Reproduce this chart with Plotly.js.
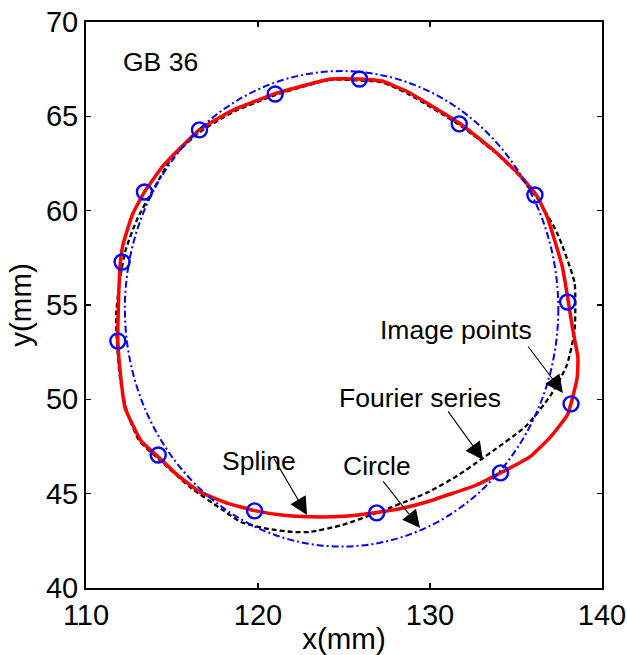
<!DOCTYPE html>
<html>
<head>
<meta charset="utf-8">
<script src="https://cdn.plot.ly/plotly-3.0.1.min.js"></script>
<style>html,body{margin:0;padding:0;background:#fff;}#chart{width:627px;height:655px;}</style>
</head>
<body>
<div id="chart"></div>
<script>
// Image points (blue open circles)
const imageX = [125.9, 121.0, 116.6, 113.4, 112.1, 111.85, 114.2, 119.8, 126.9, 134.1, 138.2, 138.0, 136.1, 131.7];
const imageY = [66.98, 66.18, 64.28, 60.99, 57.28, 53.09, 47.05, 44.09, 43.98, 46.1, 49.76, 55.16, 60.83, 64.6];

// Spline curve (red, solid)
const splineX = [125.9, 124.2, 121.0, 118.5, 116.6, 114.5, 113.4, 112.7, 112.15, 112.0, 111.9, 111.86, 111.85, 111.95, 112.27, 113.2, 114.2, 115.3, 116.6, 118.2, 119.8, 121.5, 123.0, 125.0, 126.9, 128.5, 129.8, 132.7, 134.1, 135.8, 137.0, 138.0, 138.55, 138.6, 138.3, 137.7, 136.8, 136.2, 135.1, 133.7, 131.7, 128.7, 127.2, 125.9];
const splineY = [66.98, 66.98, 66.2, 65.3, 64.3, 62.4, 61.0, 59.8, 58.2, 57.3, 55.5, 54.2, 53.1, 51.8, 49.55, 47.8, 46.95, 46.0, 45.1, 44.5, 44.1, 43.85, 43.77, 43.8, 44.0, 44.25, 44.56, 45.46, 46.1, 46.95, 48.0, 49.2, 51.1, 52.2, 53.7, 57.0, 59.7, 60.8, 62.0, 63.2, 64.65, 66.3, 66.87, 66.98];

// Fourier series curve (black, dashed)
const fourierX = [125.9, 124.2, 121.0, 118.5, 116.6, 115.0, 113.9, 113.0, 112.3, 112.0, 111.75, 111.8, 112.0, 112.4, 113.1, 114.2, 116.05, 118.0, 119.0, 120.5, 122.0, 123.0, 124.9, 126.9, 129.8, 131.5, 133.1, 135.6, 137.0, 137.95, 138.4, 138.45, 138.4, 137.4, 136.2, 135.1, 133.7, 131.7, 128.7, 127.2, 125.9];
const fourierY = [66.9, 66.93, 66.12, 65.2, 64.15, 62.8, 61.1, 59.6, 57.9, 56.5, 54.5, 53.0, 51.0, 49.3, 47.8, 46.85, 45.35, 44.1, 43.5, 43.15, 42.97, 42.97, 43.34, 43.98, 45.04, 45.9, 46.9, 48.6, 50.2, 51.8, 53.6, 55.0, 56.2, 58.8, 60.7, 61.95, 63.15, 64.55, 66.2, 66.8, 66.9];

// Fitted circle (blue, dash-dot)
const circleCx = 124.86;
const circleCy = 54.8;
const circleR = 12.6;

// Labels: text, text position, arrow head, arrow tail
const labelText = ["Image points", "Fourier series", "Circle", "Spline"];
const labelX = [131.51, 129.42, 126.92, 120.06];
const labelY = [53.68, 50.07, 46.47, 46.75];
const headX = [137.73, 133.08, 129.42, 122.85];
const headY = [50.34, 46.79, 43.18, 43.87];
const tailX = [135.64, 130.99, 127.21, 120.87];
const tailY = [52.88, 49.44, 45.73, 46.95];

const xTicks = [110, 120, 130, 140];
const yTicks = [40, 45, 50, 55, 60, 65, 70];

const FONT = "Liberation Sans, Arial, Helvetica, sans-serif";

const traces = [
  {x: fourierX, y: fourierY, type: 'scatter', mode: 'lines', name: 'Fourier series',
   line: {color: '#000000', width: 2.3, dash: '5px,3px', shape: 'spline', smoothing: 0.6}},
  {x: splineX, y: splineY, type: 'scatter', mode: 'lines', name: 'Spline',
   line: {color: '#ff0000', width: 3.5, shape: 'spline', smoothing: 0.4}},
  {x: imageX, y: imageY, type: 'scatter', mode: 'markers', name: 'Image points',
   marker: {symbol: 'circle-open', size: 15, color: '#0000ff', line: {width: 2.4, color: '#0000ff'}}}
];

const annotations = [];
for (let i = 0; i < labelText.length; i++) {
  annotations.push({x: labelX[i], y: labelY[i], xref: 'x', yref: 'y', text: labelText[i],
    showarrow: false, font: {family: FONT, size: 26.5, color: '#000'}, xanchor: 'center', yanchor: 'middle'});
  annotations.push({x: headX[i], y: headY[i], ax: tailX[i], ay: tailY[i], xref: 'x', yref: 'y',
    axref: 'x', ayref: 'y', text: '', showarrow: true, arrowhead: 2, arrowsize: 3.2, arrowwidth: 1.1,
    arrowcolor: '#000'});
}
annotations.push({x: 114.36, y: 67.88, xref: 'x', yref: 'y', text: 'GB 36', showarrow: false,
  font: {family: FONT, size: 26.5, color: '#000'}, xanchor: 'center', yanchor: 'middle'});

const layout = {
  width: 627, height: 655,
  margin: {l: 86, r: 25, t: 22, b: 67, pad: 0},
  paper_bgcolor: '#fff', plot_bgcolor: '#fff',
  showlegend: false,
  font: {family: FONT, color: '#000'},
  xaxis: {range: [110, 140], tickvals: xTicks, ticktext: xTicks.map(String),
    ticks: 'inside', ticklen: 5, tickwidth: 1.5, tickcolor: '#000',
    showline: true, linewidth: 2, linecolor: '#000', mirror: 'ticks',
    showgrid: false, zeroline: false, tickfont: {family: FONT, size: 29, color: '#000'},
    title: {text: 'x(mm)', font: {family: FONT, size: 29.5, color: '#000'}, standoff: 0}},
  yaxis: {range: [40, 70], tickvals: yTicks, ticktext: yTicks.map(String),
    ticks: 'inside', ticklen: 5, tickwidth: 1.5, tickcolor: '#000',
    showline: true, linewidth: 2, linecolor: '#000', mirror: 'ticks',
    showgrid: false, zeroline: false, tickfont: {family: FONT, size: 29, color: '#000'},
    title: {text: 'y(mm)', font: {family: FONT, size: 29.5, color: '#000'}, standoff: 6}},
  shapes: [{type: 'circle', xref: 'x', yref: 'y',
    x0: circleCx - circleR, x1: circleCx + circleR, y0: circleCy - circleR, y1: circleCy + circleR,
    line: {color: '#0000ff', width: 2, dash: '7px,3px,2px,3px'}, layer: 'above'}],
  annotations: annotations
};

Plotly.newPlot('chart', traces, layout, {displayModeBar: false, staticPlot: true});
</script>
</body>
</html>
